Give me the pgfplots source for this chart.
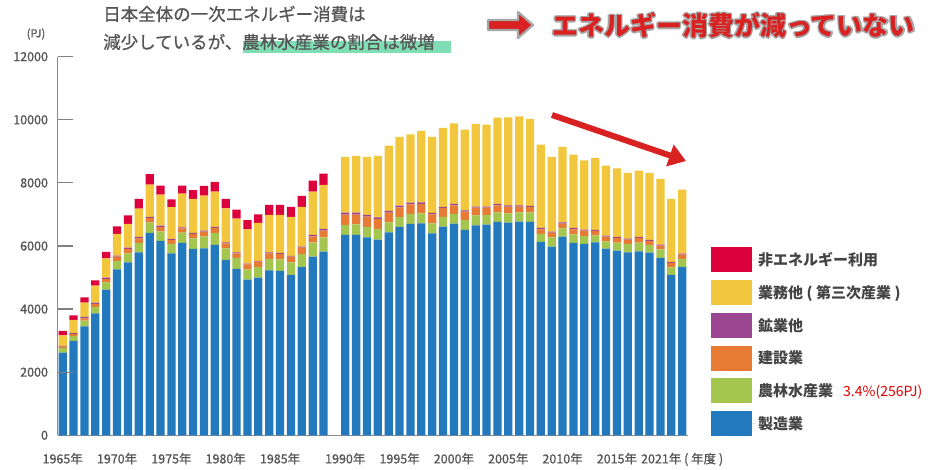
\documentclass[border=0pt]{standalone}
\usepackage{fontspec}
\setmainfont{Noto Sans CJK JP}
\newfontfamily\medfont{Noto Sans CJK JP}[FakeBold=0.8]
\usepackage{pgfplots}
\pgfplotsset{compat=1.18}
\usepackage{pgfplotstable}
\usetikzlibrary{arrows.meta}
\definecolor{cRed}{HTML}{DC003C}
\definecolor{cYel}{HTML}{F3C73D}
\definecolor{cPur}{HTML}{9B4690}
\definecolor{cOra}{HTML}{E87B33}
\definecolor{cGre}{HTML}{A4C54E}
\definecolor{cBlu}{HTML}{2379BD}
\definecolor{txt}{HTML}{555555}
\definecolor{legtxt}{HTML}{444444}
\definecolor{hl}{HTML}{80DEB4}
\definecolor{arr}{HTML}{D92121}
\definecolor{pct}{HTML}{E00000}

% x: 0..24 = 1965..1989, 26..57 = 1990..2021
\pgfplotstableread{
x blue green orange purple yellow red
0 2618 149 42 22 339 136
1 2989 159 63 32 412 149
2 3455 178 76 41 453 172
3 3867 200 95 41 539 172
4 4616 228 104 48 609 212
5 5262 263 137 31 688 244
6 5484 285 137 41 751 276
7 5801 295 149 41 897 308
8 6413 326 149 32 1024 330
9 6159 308 136 41 983 285
10 5769 295 127 32 1005 253
11 6096 326 140 32 1065 253
12 5906 339 136 32 1078 276
13 5928 380 146 32 1109 308
14 6033 380 158 32 1119 308
15 5557 371 158 32 1078 295
16 5272 348 149 32 1065 286
17 4933 329 159 19 1090 286
18 4996 339 168 22 1205 276
19 5231 358 180 32 1183 317
20 5208 371 168 32 1205 317
21 5082 402 178 22 1236 317
22 5335 412 200 32 1258 349
23 5662 456 190 42 1372 349
24 5820 457 209 54 1395 358
26 6349 317 328 63 1765 0
27 6349 339 306 63 1797 0
28 6275 328 328 52 1839 0
29 6201 339 317 52 1945 0
30 6434 317 306 53 2071 0
31 6603 317 306 53 2177 0
32 6698 317 307 52 2167 0
33 6719 317 296 53 2261 0
34 6402 317 286 42 2409 0
35 6614 306 285 32 2504 0
36 6709 306 275 42 2558 0
37 6508 317 264 42 2557 0
38 6656 317 243 32 2620 0
39 6677 306 233 32 2599 0
40 6762 306 222 42 2737 0
41 6740 296 212 42 2790 0
42 6772 296 180 42 2822 0
43 6762 306 169 32 2758 0
44 6127 254 148 42 2642 0
45 5980 295 148 32 2367 0
46 6297 264 148 42 2388 0
47 6096 275 158 42 2325 0
48 6064 254 169 31 2199 0
49 6117 222 137 32 2282 0
50 5916 233 148 31 2219 0
51 5853 253 148 32 2177 0
52 5800 264 137 32 2082 0
53 5832 274 148 32 2103 0
54 5789 243 127 32 2124 0
55 5620 275 116 32 2082 0
56 5081 243 138 31 1998 0
57 5335 256 135 32 2029 0
}\datatable

\begin{document}
\begin{tikzpicture}
\path[use as bounding box] (0pt,0pt) rectangle (940pt,470pt);
\begin{axis}[
  at={(57.5pt,34.7pt)}, anchor=south west,
  scale only axis, width=630.6pt, height=378.6pt,
  xmin=-0.48, xmax=57.55, ymin=0, ymax=12000,
  ybar stacked, bar width=0.76,
  axis lines*=left,
  axis line style={draw=black!45, line width=1.1pt},
  tick align=inside,
  ytick={0,2000,...,12000},
  scaled y ticks=false,
  yticklabel={\pgfmathprintnumber[assume math mode=true,fixed,precision=0,1000 sep={}]{\tick}},
  xtick=\empty,
  extra x ticks={0,5,10,15,20,26,31,36,41,46,51,57},
  extra x tick labels={1965年,1970年,1975年,1980年,1985年,1990年,1995年,2000年,2005年,2010年,2015年,{2021年 ( 年度 )}},
  extra x tick style={major tick length=0pt},
  minor xtick={-0.5,0.5,...,57.5},
  major tick length=15pt, minor tick length=9pt,
  major tick style={draw=black!45, line width=1.1pt},
  minor tick style={draw=black!18, line width=2pt},
  ticklabel style={font=\medfont\fontsize{12.5}{13}\selectfont, text=txt},
  yticklabel style={xshift=-6pt},
  xticklabel style={yshift=-14pt},
  clip=false,
  leg/.style={/pgfplots/legend image code/.code={\fill[#1] (0pt,-12.5pt) rectangle (41pt,12.5pt); \path (0pt,0pt) -- (45pt,0pt);}},
  legend style={at={(axis description cs:1.0363,0.4966)}, anchor=north west,
    draw=none, fill=none, inner sep=0pt, row sep=7.7pt,
    font=\fontsize{15}{15}\selectfont\bfseries, text=legtxt,
    cells={anchor=west}},
  reverse legend,
]
\addplot[fill=cBlu, draw=none, leg=cBlu] table[x=x,y=blue]{\datatable};
\addplot[fill=cGre, draw=none, leg=cGre] table[x=x,y=green]{\datatable};
\addplot[fill=cOra, draw=none, leg=cOra] table[x=x,y=orange]{\datatable};
\addplot[fill=cPur, draw=none, leg=cPur] table[x=x,y=purple]{\datatable};
\addplot[fill=cYel, draw=none, leg=cYel] table[x=x,y=yellow]{\datatable};
\addplot[fill=cRed, draw=none, leg=cRed] table[x=x,y=red]{\datatable};
\legend{製造業, {農林水産業\hspace{10pt}{\mdseries\color{pct}\fontsize{14}{14}\selectfont 3.4\%(256PJ)}}, 建設業, 鉱業他, {業務他 ( 第三次産業 )}, 非エネルギー利用}
\end{axis}
% y tick marks (pointing into the plot area)
\foreach \ty in {97.8,160.9,224.0,287.1,350.2,413.3}{
  \draw[black!50, line width=1.2pt] (57.5pt,\ty pt) -- (72.5pt,\ty pt);
}
% (PJ)
\node[anchor=center, inner sep=0pt, text=txt, font=\medfont\fontsize{11}{11}\selectfont] at (36pt,436pt) {(PJ)};
% title
\node[anchor=west, inner sep=0pt, text=txt, font=\medfont\fontsize{17.5}{17.5}\selectfont] at (103pt,456pt) {日本全体の一次エネルギー消費は};
\fill[hl] (243pt,417pt) rectangle (451pt,429pt);
\node[anchor=west, inner sep=0pt, text=txt, font=\medfont\fontsize{17.5}{17.5}\selectfont] at (103pt,428pt) {減少しているが、農林水産業の割合は微増};
% block arrow
\draw[fill=arr, draw=black!35, line width=2.2pt, line join=round] (488pt,440pt) -- (518pt,440pt) -- (518pt,432pt) -- (533pt,445pt) -- (518pt,458pt) -- (518pt,450pt) -- (488pt,450pt) -- cycle;
% red text with halo
\foreach \dx/\dy in {-1.6/0,1.6/0,0/-1.6,0/1.6,-1.15/-1.15,1.15/1.15,-1.15/1.15,1.15/-1.15}{
  \node[anchor=west, inner sep=0pt, text=black!35, font=\fontsize{26}{26}\selectfont\bfseries] at (552pt+\dx pt,444.5pt+\dy pt) {エネルギー消費が減っていない};
}
\node[anchor=west, inner sep=0pt, text=arr, font=\fontsize{26}{26}\selectfont\bfseries] at (552pt,444.5pt) {エネルギー消費が減っていない};
% diagonal arrow
\draw[arr, line width=6pt, -{Triangle[length=17pt,width=22pt]}] (552pt,355pt) -- (686pt,309pt);
\end{tikzpicture}
\end{document}
